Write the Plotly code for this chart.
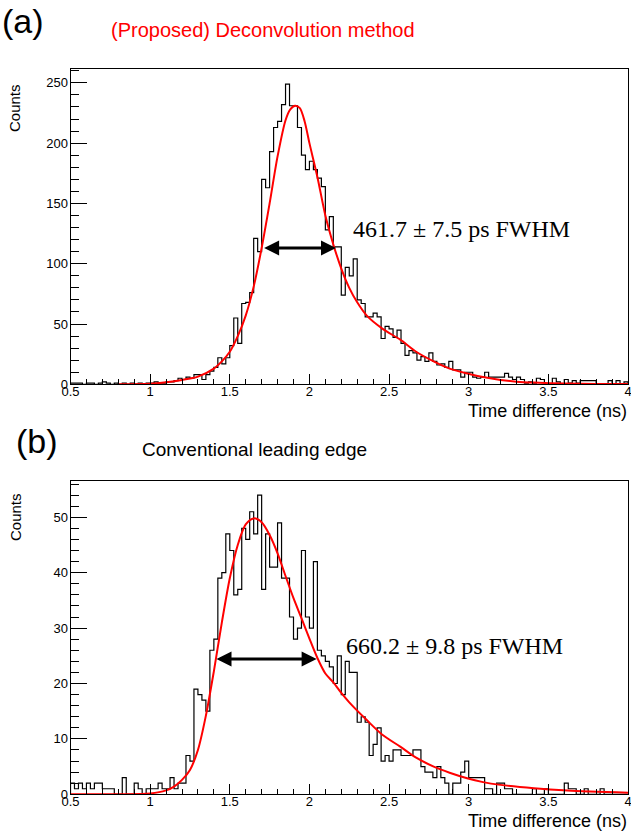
import numpy as np
import plotly.graph_objects as go

W, H = 631, 834

# ---------------- data ----------------
BIN_START = 0.5
BIN_WIDTH = 0.025

COUNTS_A = [
    1, 1, 1, 0, 1, 1, 0, 1, 2, 1,
    0, 1, 0, 1, 0, 1, 0, 1, 0, 1,
    1, 2, 1, 1, 2, 2, 3, 5, 4, 6,
    5, 8, 8, 4, 8, 11, 14, 22, 17, 22,
    32, 55, 34, 67, 68, 76, 121, 110, 170, 163,
    193, 213, 218, 232, 249, 231, 231, 213, 190, 178,
    185, 178, 171, 164, 128, 139, 114, 114, 74, 97,
    90, 104, 70, 67, 56, 56, 59, 56, 38, 48,
    46, 39, 45, 34, 24, 28, 26, 20, 23, 19,
    26, 19, 16, 17, 14, 19, 12, 12, 6, 10,
    10, 6, 5, 6, 10, 6, 6, 6, 6, 9,
    6, 4, 6, 4, 1, 2, 1, 5, 4, 0,
    0, 5, 2, 0, 4, 1, 3, 1, 3, 3,
    3, 3, 0, 0, 0, 3, 0, 3, 0, 2,
]

COUNTS_B = [
    2, 1, 2, 1, 2, 1, 2, 2, 1, 1,
    1, 0, 0, 3, 0, 0, 2, 1, 0, 1,
    1, 1, 2, 1, 1, 3, 1, 2, 2, 7,
    6, 19, 18, 17, 15, 26, 28, 39, 40, 47,
    44, 36, 37, 48, 46, 51, 47, 54, 37, 47,
    41, 41, 49, 39, 39, 32, 28, 30, 44, 32,
    30, 42, 26, 25, 24, 23, 20, 25, 18, 24,
    22, 22, 13, 14, 13, 7, 9, 12, 6, 7,
    6, 8, 8, 7, 7, 7, 8, 8, 5, 4,
    4, 3, 5, 3, 2, 0, 2, 2, 4, 6,
    3, 3, 3, 3, 1, 1, 0, 2, 2, 1,
    1, 0, 0, 0, 0, 0, 1, 0, 0, 1,
    0, 0, 0, 0, 2, 1, 1, 0, 0, 1,
    0, 0, 0, 1, 0, 0, 0, 0, 0, 0,
]

FIT_A_T = [0.8, 1.0, 1.1, 1.2, 1.3, 1.4, 1.45, 1.5, 1.55, 1.6, 1.65, 1.7, 1.75, 1.8,
           1.85, 1.88, 1.91, 1.94, 1.97, 2.0, 2.05, 2.1, 2.15, 2.2, 2.25, 2.3, 2.36, 2.46, 2.57,
           2.67, 2.78, 2.88, 2.99, 3.09, 3.2, 3.3, 3.41, 3.6, 3.8, 4.0]
FIT_A_V = [0.1, 0.5, 1.7, 3.6, 6.4, 13, 19, 27, 40, 57, 81, 113, 150, 189,
           219, 228, 231, 229, 218, 200, 172, 140, 116, 96, 80, 68, 57, 46, 37,
           27, 19, 13, 9, 6, 3.6, 2.2, 1.4, 0.6, 0.3, 0.2]

FIT_B_T = [0.5, 0.8, 1.0, 1.1, 1.15, 1.2, 1.25, 1.3, 1.35, 1.4, 1.45, 1.5, 1.55, 1.6,
           1.65, 1.7, 1.75, 1.8, 1.85, 1.9, 1.95, 2.0, 2.05, 2.1, 2.15, 2.2, 2.25,
           2.36, 2.46, 2.57, 2.67, 2.78, 2.88, 2.99, 3.09, 3.2, 3.41, 3.62, 4.0]
FIT_B_V = [0.0, 0.02, 0.15, 0.7, 1.4, 2.6, 4.4, 8, 14.2, 22.2, 31, 39, 45, 48.7,
           49.8, 49.1, 46.8, 43.5, 39.4, 35.4, 31.8, 28.1, 24.6, 21.8, 20.2, 18.3, 16.6,
           13.4, 10.7, 8.6, 6.6, 5.0, 3.9, 2.9, 2.2, 1.7, 1.1, 0.7, 0.3]

FWHM_A = (1.706, 2.167, 113)
FWHM_B = (1.407, 2.045, 24.4)

TITLE_A = "(Proposed) Deconvolution method"
TITLE_B = "Conventional leading edge"
LABEL_A = "461.7 ± 7.5 ps FWHM"
LABEL_B = "660.2 ± 9.8 ps FWHM"
XTITLE = "Time difference (ns)"
YTITLE = "Counts"
X_RANGE = [0.5, 4.0]
Y_MAX_A = 261.5
Y_MAX_B = 56.6

SANS = "Liberation Sans, Arial, sans-serif"
SERIF = "Liberation Serif, Times New Roman, serif"


def step_xy(counts):
    n = len(counts)
    edges = BIN_START + BIN_WIDTH * np.arange(n + 1)
    xs = [edges[0]] + list(edges) + [edges[-1]]
    ys = [0] + list(counts) + [counts[-1], 0]
    return xs, ys


fig = go.Figure()

for counts, ft, fv, xa, ya in [
    (COUNTS_A, FIT_A_T, FIT_A_V, "x", "y"),
    (COUNTS_B, FIT_B_T, FIT_B_V, "x2", "y2"),
]:
    xs, ys = step_xy(counts)
    fig.add_trace(go.Scatter(x=xs, y=ys, mode="lines", line=dict(color="black", width=1.2, shape="hv"),
                             xaxis=xa, yaxis=ya, hoverinfo="skip"))
    fig.add_trace(go.Scatter(x=ft, y=fv, mode="lines", line=dict(color="#ff0000", width=2, shape="spline", smoothing=0.8),
                             xaxis=xa, yaxis=ya, hoverinfo="skip"))

def px2x(p):
    return p / W

def px2y(p):
    return 1 - p / H

xdom = [px2x(70.5), px2x(628)]
ydom_a = [px2y(384.3), px2y(69)]
ydom_b = [px2y(794.3), px2y(480.7)]

xaxis_common = dict(
    range=X_RANGE, showgrid=False, zeroline=False, showline=True, linecolor="black", linewidth=1,
    mirror=True, ticks="inside", ticklen=10, tickwidth=1, tickcolor="black",
    tick0=0.5, dtick=0.5, tickfont=dict(family=SANS, size=13, color="black"),
    ticklabelstandoff=-5, ticklabeloverflow="allow",
    minor=dict(ticks="inside", ticklen=5, tickwidth=1, tickcolor="black", dtick=0.1, tick0=0.5, showgrid=False),
    domain=xdom, automargin=False, fixedrange=True,
)

def yaxis(ymax, dtick, mdtick):
    return dict(
        range=[0, ymax], showgrid=False, zeroline=False, showline=True, linecolor="black", linewidth=1,
        mirror=True, ticks="inside", ticklen=16, tickwidth=1, tickcolor="black",
        tick0=0, dtick=dtick, tickfont=dict(family=SANS, size=13, color="black"),
        ticklabelstandoff=-1,
        minor=dict(ticks="inside", ticklen=8, tickwidth=1, tickcolor="black", dtick=mdtick, tick0=0, showgrid=False),
        automargin=False, fixedrange=True,
    )

ya = yaxis(Y_MAX_A, 50, 10)
ya["domain"] = ydom_a
ya["anchor"] = "x"
yb = yaxis(Y_MAX_B, 10, 2)
yb["domain"] = ydom_b
yb["anchor"] = "x2"
xa1 = dict(xaxis_common, anchor="y")
xa2 = dict(xaxis_common, anchor="y2")

annotations = []

def txt(text, xp, yp, size, color="black", family=SANS, xanchor="center", yanchor="middle", angle=0):
    annotations.append(dict(text=text, x=px2x(xp), y=px2y(yp), xref="paper", yref="paper",
                            showarrow=False, xanchor=xanchor, yanchor=yanchor, textangle=angle,
                            font=dict(family=family, size=size, color=color)))

txt("(a)", 23, 21, 34)
txt(TITLE_A, 263, 30, 20, color="#ff0000")
txt("(b)", 37, 441, 34)
txt(TITLE_B, 254, 449, 19)
txt(XTITLE, 629, 411, 18, xanchor="right")
txt(XTITLE, 629, 821, 18, xanchor="right")
txt(YTITLE, 15, 108, 15, angle=-90)
txt(YTITLE, 15, 517, 15, angle=-90)
txt(LABEL_A, 351, 229, 24, family=SERIF, xanchor="left")
txt(LABEL_B, 344, 646, 24, family=SERIF, xanchor="left")

for (x0, x1, yv), xr, yr in [(FWHM_A, "x", "y"), (FWHM_B, "x2", "y2")]:
    annotations.append(dict(x=x1, y=yv, ax=x0, ay=yv, xref=xr, yref=yr, axref=xr, ayref=yr,
                            text="", showarrow=True, arrowhead=2, arrowside="end+start",
                            arrowsize=1.0, arrowwidth=3, arrowcolor="black", standoff=0, startstandoff=0))

fig.update_layout(
    width=W, height=H, margin=dict(l=0, r=0, t=0, b=0, pad=0),
    paper_bgcolor="white", plot_bgcolor="white", showlegend=False,
    xaxis=xa1, yaxis=ya, xaxis2=xa2, yaxis2=yb,
    annotations=annotations,
)

fig.write_html(
    "out.html",
    config={"displayModeBar": False},
    post_script="document.body.style.margin='0';document.body.style.overflow='hidden';",
)
